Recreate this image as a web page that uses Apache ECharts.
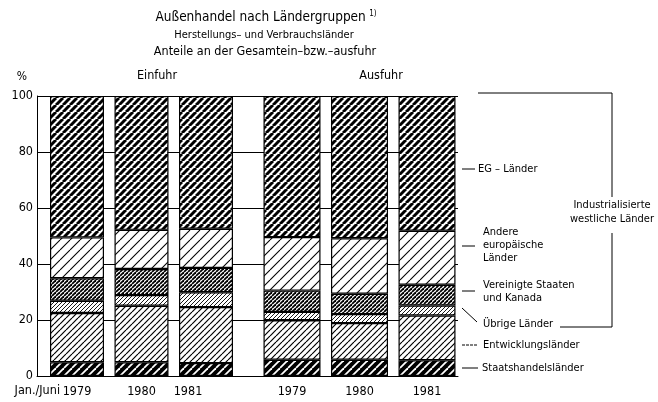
<!DOCTYPE html>
<html>
<head>
<meta charset="utf-8">
<script src="https://cdn.jsdelivr.net/npm/echarts@6/dist/echarts.min.js"></script>
<style>html,body{margin:0;padding:0;background:#fff}#c{width:658px;height:402px}</style>
</head>
<body>
<div id="c"></div>
<script>
// ---- data (shares in %, bottom to top) ----
const einfuhrCategories = ['1979', '1980', '1981'];
const ausfuhrCategories = ['1979', '1980', '1981'];
const yTicks = [0, 20, 40, 60, 80, 100];
const layerNames = ['Staatshandelsländer', 'Entwicklungsländer', 'Übrige Länder',
  'Vereinigte Staaten und Kanada', 'Andere europäische Länder', 'EG – Länder'];
// Einfuhr 1979, 1980, 1981
const einfuhrStaats   = [4.9, 4.9, 4.6];
const einfuhrEntw     = [17.6, 20.2, 20.0];
const einfuhrUebrige  = [4.4, 3.8, 5.3];
const einfuhrUSA      = [8.0, 9.3, 8.7];
const einfuhrAndere   = [14.6, 14.0, 14.0];
const einfuhrEG       = [50.5, 47.8, 47.4];
// Ausfuhr 1979, 1980, 1981
const ausfuhrStaats   = [5.8, 5.8, 5.6];
const ausfuhrEntw     = [14.1, 13.1, 16.0];
const ausfuhrUebrige  = [3.0, 3.2, 3.6];
const ausfuhrUSA      = [7.6, 7.3, 7.4];
const ausfuhrAndere   = [19.1, 19.8, 19.3];
const ausfuhrEG       = [50.4, 50.8, 48.1];

const FONT = "'Liberation Sans Narrow','DejaVu Sans Condensed',sans-serif";
const DPR = window.devicePixelRatio || 1;

function hatch(period, lw, fg, bg) {
  const c = document.createElement('canvas');
  c.width = c.height = Math.round(period * DPR);
  const ctx = c.getContext('2d');
  ctx.scale(DPR, DPR);
  ctx.fillStyle = bg; ctx.fillRect(0, 0, period, period);
  ctx.strokeStyle = fg; ctx.lineWidth = lw;
  for (const k of [-period, 0, period]) {
    ctx.beginPath(); ctx.moveTo(k, period); ctx.lineTo(k + period, 0); ctx.stroke();
  }
  return { image: c, repeat: 'repeat', scaleX: 1 / DPR, scaleY: 1 / DPR };
}
const patterns = [
  hatch(8, 1.8, '#fff', '#000'),   // Staats
  hatch(6, 1.2, '#000', '#fff'),   // Entw
  hatch(4, 0.9, '#000', '#fff'),   // Übrige
  hatch(4, 1.8, '#000', '#fff'),   // USA
  hatch(10, 1.1, '#000', '#fff'),  // Andere
  hatch(7, 3.0, '#000', '#fff')    // EG
];
const einfuhrLayers = [einfuhrStaats, einfuhrEntw, einfuhrUebrige, einfuhrUSA, einfuhrAndere, einfuhrEG];
const ausfuhrLayers = [ausfuhrStaats, ausfuhrEntw, ausfuhrUebrige, ausfuhrUSA, ausfuhrAndere, ausfuhrEG];

const series = [];
[[einfuhrLayers, 1, 'e', 54], [ausfuhrLayers, 2, 'a', 57]].forEach(([layers, gi, st, bw]) => {
  layers.forEach((vals, li) => {
    series.push({
      type: 'bar', name: layerNames[li], stack: st, xAxisIndex: gi, yAxisIndex: gi,
      data: vals, barWidth: bw, silent: true,
      itemStyle: { color: patterns[li], borderColor: '#000', borderWidth: 1.2 }
    });
  });
});

const T = (text, x, y, size, align) => ({
  type: 'text', silent: true,
  style: { text, x, y, fill: '#000', font: size + 'px ' + FONT, align: align || 'left', verticalAlign: 'middle' }
});
const L = (x1, y1, x2, y2, dash) => ({
  type: 'line', silent: true, shape: { x1, y1, x2, y2 },
  style: { stroke: '#000', lineWidth: 1, lineDash: dash || null }
});

const LS = 11;
const graphics = [
  { type: 'text', silent: true, style: {
      text: '{m|Außenhandel nach Ländergruppen} {s|1)}', x: 266, y: 17, align: 'center', verticalAlign: 'middle',
      rich: { m: { fontSize: 13.5, fontFamily: FONT, fill: '#000' }, s: { fontSize: 8, fontFamily: FONT, fill: '#000', padding: [0, 0, 6, 0] } } } },
  T('Herstellungs– und Verbrauchsländer', 264, 35, 11, 'center'),
  T('Anteile an der Gesamtein–bzw.–ausfuhr', 265, 52, 12.5, 'center'),
  T('%', 22, 77, 12, 'center'),
  T('Einfuhr', 157, 76, 12.5, 'center'),
  T('Ausfuhr', 381, 76, 12.5, 'center'),
  T('Jan./Juni', 60, 391, 12.5, 'right'),
  // legend labels
  L(462, 169, 475, 169), T('EG – Länder', 478, 169, LS),
  L(462, 246, 475, 246), T('Andere', 483, 232, LS), T('europäische', 483, 245, LS), T('Länder', 483, 258, LS),
  L(462, 291, 475, 291), T('Vereinigte Staaten', 483, 285, LS), T('und Kanada', 483, 298, LS),
  L(462, 308, 477, 322), T('Übrige Länder', 483, 324, LS),
  L(462, 345, 478, 345, [3, 1]), T('Entwicklungsländer', 483, 345, LS),
  L(462, 368, 478, 368), T('Staatshandelsländer', 482, 368, LS),
  // bracket
  L(478, 93, 612, 93), L(612, 93, 612, 197), L(612, 233, 612, 327), L(560, 327, 612, 327),
  T('Industrialisierte', 612, 205, LS, 'center'), T('westliche Länder', 612, 219, LS, 'center')
];

const hiddenY = (gi) => ({ type: 'value', gridIndex: gi, min: 0, max: 100, show: false });
const catX = (gi, data, shiftIdx) => ({
  type: 'category', gridIndex: gi, data,
  axisLine: { show: false }, axisTick: { show: false },
  axisLabel: { interval: 0, hideOverlap: false, color: '#000', fontSize: 12.5, fontFamily: FONT, margin: 9,
    formatter: (v, i) => (i === shiftIdx ? '{s|' + v + '}' : v),
    rich: { s: { color: '#000', fontSize: 12.5, fontFamily: FONT, padding: [0, 36, 0, 0] } } }
});

const option = {
  animation: false,
  backgroundColor: '#fff',
  grid: [
    { left: 37, right: 200, top: 96, bottom: 26 },
    { left: 44.75, right: 419.75, top: 96, bottom: 26 },
    { left: 258.25, right: 197.25, top: 96, bottom: 26 }
  ],
  xAxis: [
    { type: 'value', gridIndex: 0, min: 0, max: 1, axisLabel: { show: false }, axisTick: { show: false },
      splitLine: { show: false }, axisLine: { show: true, lineStyle: { color: '#000', width: 1 } } },
    catX(1, einfuhrCategories, 2),
    catX(2, ausfuhrCategories, -1)
  ],
  yAxis: [
    { type: 'value', gridIndex: 0, min: yTicks[0], max: yTicks[yTicks.length - 1], interval: 20,
      axisLine: { show: true, lineStyle: { color: '#000', width: 1 } }, axisTick: { show: false },
      axisLabel: { color: '#000', fontSize: 12.5, fontFamily: FONT, margin: 4 },
      splitLine: { show: true, lineStyle: { color: '#000', width: 1 } } },
    hiddenY(1), hiddenY(2)
  ],
  series,
  graphic: graphics
};
echarts.init(document.getElementById('c')).setOption(option);
</script>
</body>
</html>
